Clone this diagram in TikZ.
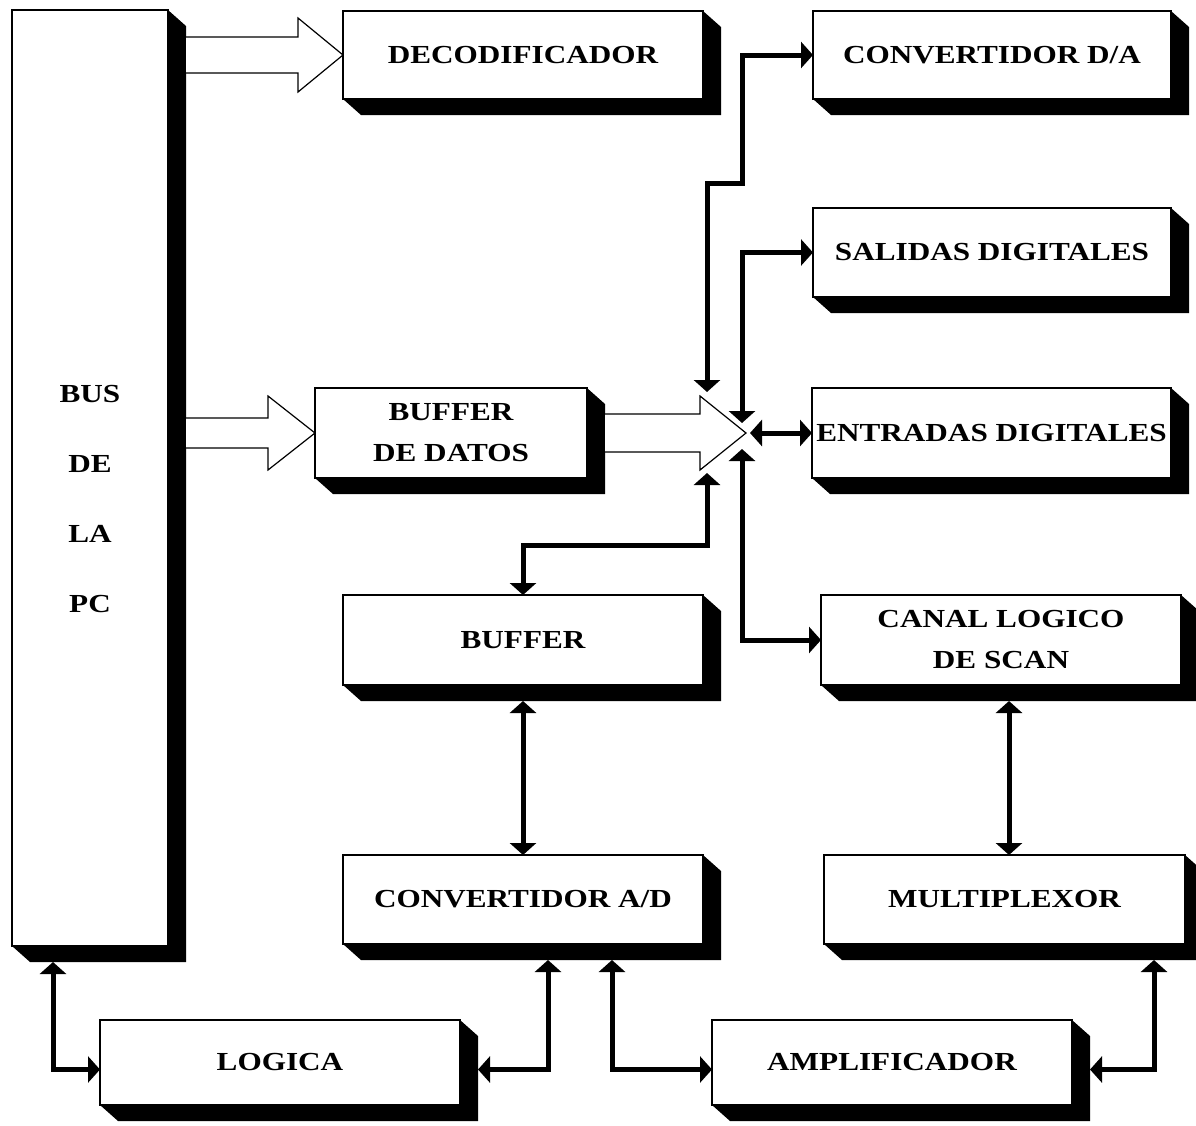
\documentclass[tikz,border=0pt]{standalone}
\usepackage{fontspec}
\setmainfont[FakeStretch=1.2]{Liberation Serif}
\usetikzlibrary{arrows.meta,calc}
% extruded black shadow on the lower right of a block
\newcommand\blockshadow[1]{%
  \fill ($(#1.north east)$) -- ++(18,16) -- ($(#1.south east)+(18,16)$)
    -- ($(#1.south west)+(18,16)$) -- (#1.south west) -- (#1.south east) -- cycle;}
% wide hollow arrow: start, tip, half shaft, half head, head length
\newcommand\hollowarrow[5]{%
  \draw[hollow] ($(#1)+(0,-#3)$) -- ($(#2)+(-#5,-#3)$) -- ($(#2)+(-#5,-#4)$) -- (#2)
    -- ($(#2)+(-#5,#4)$) -- ($(#2)+(-#5,#3)$) -- ($(#1)+(0,#3)$);}
\begin{document}
\begin{tikzpicture}[x=1pt,y=-1pt,
  blk/.style={draw,line width=2pt,fill=white,inner sep=0pt,outer sep=0pt,align=center,
    font=\fontsize{26}{41}\selectfont\bfseries},
  lbl/.style={inner sep=0pt,align=center,font=\fontsize{26}{70}\selectfont\bfseries},
  hollow/.style={draw,line width=1.2pt,fill=white,line join=miter},
  tip/.tip={Triangle[length=12pt,width=26pt]},
  conn/.style={line width=5pt,line join=miter,tip-tip}]
\useasboundingbox (0,0) rectangle (1196,1125);

% blocks
\node[blk,minimum width=156,minimum height=936] (bus) at (90,478) {};
\node[lbl] (busl) at (90,499) {BUS\\DE\\LA\\PC};
\node[blk,minimum width=360,minimum height=88] (dec) at (523,55) {DECODIFICADOR};
\node[blk,minimum width=358,minimum height=88] (dac) at (992,55) {CONVERTIDOR D/A};
\node[blk,minimum width=358,minimum height=89] (sal) at (992,252.5) {SALIDAS DIGITALES};
\node[blk,minimum width=359,minimum height=90] (ent) at (991.5,433) {ENTRADAS DIGITALES};
\node[blk,minimum width=272,minimum height=90] (bdd) at (451,433) {BUFFER\\DE DATOS};
\node[blk,minimum width=360,minimum height=90] (buf) at (523,640) {BUFFER};
\node[blk,minimum width=360,minimum height=90] (can) at (1001,640) {CANAL LOGICO\\DE SCAN};
\node[blk,minimum width=360,minimum height=89] (adc) at (523,899.5) {CONVERTIDOR A/D};
\node[blk,minimum width=361,minimum height=89] (mux) at (1004.5,899.5) {MULTIPLEXOR};
\node[blk,minimum width=360,minimum height=85] (log) at (280,1062.5) {LOGICA};
\node[blk,minimum width=360,minimum height=85] (amp) at (892,1062.5) {AMPLIFICADOR};

\foreach \b in {bus,dec,dac,sal,ent,bdd,buf,can,adc,mux,log,amp}{\blockshadow{\b}}

% wide data-path arrows
\coordinate (busr1) at ([xshift=18pt]bus.east |- dec.west);
\coordinate (busr2) at ([xshift=18pt]bus.east |- bdd.west);
\coordinate (bddr) at ([xshift=18pt]bdd.east);
\coordinate (jn) at (746,433);
\hollowarrow{busr1}{dec.west}{18}{37}{45}
\hollowarrow{busr2}{bdd.west}{15}{37}{47}
\hollowarrow{bddr}{jn}{19}{37}{46}

% ends of the connectors around the junction
\coordinate (j1) at (707,392);
\coordinate (j2) at (742,423);
\coordinate (j3) at (750,433);
\coordinate (j4) at (707,473);
\coordinate (j5) at (742,449);

\draw[conn] (j1) |- (742,183) |- (dac.west);
\draw[conn] (j2) |- (sal.west);
\draw[conn] (j3) -- (ent.west);
\draw[conn] (j4) |- (buf.north |- 0,545) -- (buf.north);
\draw[conn] (j5) |- (can.west);

% vertical links between stacked blocks
\draw[conn] ([yshift=-16pt]buf.south) -- (adc.north);
\draw[conn] ([shift={(8pt,-16pt)}]can.south) -- ([xshift=4.5pt]mux.north);

% links along the bottom row
\draw[conn] ([shift={(-37pt,-16pt)}]bus.south) |- ([yshift=-7pt]log.west);
\draw[conn] ([shift={(18pt,-7pt)}]log.east) -| ([shift={(25pt,-16pt)}]adc.south);
\draw[conn] ([shift={(89pt,-16pt)}]adc.south) |- ([yshift=-7pt]amp.west);
\draw[conn] ([shift={(18pt,-7pt)}]amp.east) -| ([shift={(149.5pt,-16pt)}]mux.south);
\end{tikzpicture}
\end{document}
